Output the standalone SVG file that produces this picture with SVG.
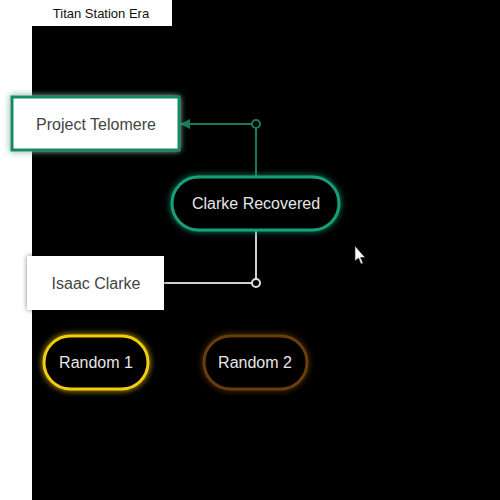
<svg xmlns="http://www.w3.org/2000/svg" width="500" height="500" viewBox="0 0 500 500">
<style>
text{font-family:"Liberation Sans",Arial,sans-serif;font-size:16px;text-anchor:middle;dominant-baseline:central}
.dark{fill:#444}
.light{fill:#e6e6e6}
</style>
<defs>
<filter id="glowG" x="-30%" y="-40%" width="160%" height="180%"><feGaussianBlur in="SourceGraphic" stdDeviation="3"/><feMerge><feMergeNode/><feMergeNode in="SourceGraphic"/></feMerge></filter>
<filter id="shadow" x="-20%" y="-30%" width="140%" height="160%"><feGaussianBlur in="SourceAlpha" stdDeviation="2.5"/><feComponentTransfer><feFuncA type="linear" slope="0.5"/></feComponentTransfer><feMerge><feMergeNode/><feMergeNode in="SourceGraphic"/></feMerge></filter>
<marker id="arrow" viewBox="0 0 10 10" refX="9" refY="5" markerWidth="10" markerHeight="10" markerUnits="userSpaceOnUse" orient="auto"><path d="M0,0 L10,5 L0,10 z" fill="#1a7a5a"/></marker>
</defs>
<rect width="500" height="500" fill="#ffffff"/>
<rect x="32" y="0" width="468" height="500" fill="#000000"/>
<g id="title">
<rect x="0" y="0" width="172" height="26" fill="#ffffff"/>
<text x="101" y="13" style="font-size:13px" fill="#111">Titan Station Era</text>
</g>
<g id="connectors">
<line x1="256" y1="124" x2="181" y2="124" stroke="#1a7a5a" stroke-width="2" marker-end="url(#arrow)"/>
<line x1="256" y1="128" x2="256" y2="177" stroke="#1a7a5a" stroke-width="2"/>
<circle cx="256" cy="124" r="4" fill="#000" stroke="#1a7a5a" stroke-width="2"/>
<line x1="256" y1="230" x2="256" y2="279" stroke="#d0d0d0" stroke-width="2"/>
<line x1="164" y1="283" x2="252" y2="283" stroke="#d0d0d0" stroke-width="2"/>
<circle cx="256" cy="283" r="4" fill="#000" stroke="#e0e0e0" stroke-width="2"/>
</g>
<g id="project-telomere">
<rect x="12" y="97" width="167" height="53" fill="#ffffff" stroke="#128a63" stroke-width="3" filter="url(#glowG)"/>
<text x="96" y="124" class="dark">Project Telomere</text>
</g>
<g id="clarke-recovered">
<rect x="172" y="177" width="167" height="53" rx="26.5" fill="#000" stroke="#18a07a" stroke-width="3" filter="url(#glowG)"/>
<text x="256" y="203" class="light">Clarke Recovered</text>
</g>
<g id="isaac-clarke">
<rect x="27" y="256" width="137" height="54" fill="#ffffff" filter="url(#shadow)"/>
<text x="96" y="283" class="dark">Isaac Clarke</text>
</g>
<g id="random-1">
<rect x="44" y="336" width="104" height="53" rx="26.5" fill="#000" stroke="#f2cc0c" stroke-width="3" filter="url(#glowG)"/>
<text x="96" y="362" class="light">Random 1</text>
</g>
<g id="random-2">
<rect x="204" y="336" width="103" height="53" rx="26.5" fill="#000" stroke="#6a3c08" stroke-width="3" filter="url(#glowG)"/>
<text x="255" y="362" class="light">Random 2</text>
</g>
<polygon points="355,246 355,261 358.5,258 361,264 363,263 360.5,257.5 365,257.5" fill="#ffffff" stroke="#222" stroke-width="0.6"/>
</svg>
